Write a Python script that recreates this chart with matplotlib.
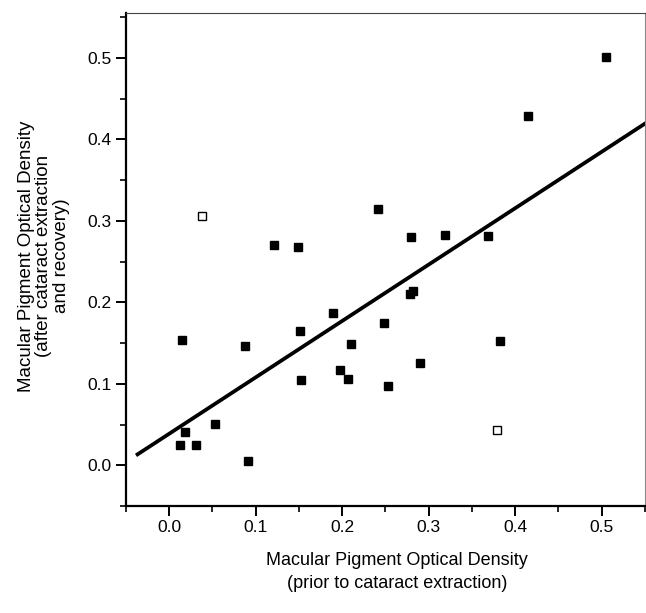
import matplotlib
matplotlib.use("Agg")
import matplotlib.pyplot as plt
import numpy as np

plt.rcParams['font.family'] = ['Liberation Sans', 'DejaVu Sans']

# Filled squares (included subjects)
x_filled = [0.0123, 0.0185, 0.0304, 0.053, 0.091, 0.015, 0.0877, 0.1208, 0.149,
            0.1515, 0.1527, 0.189, 0.198, 0.207, 0.210, 0.241, 0.248, 0.253,
            0.2785, 0.2815, 0.280, 0.290, 0.319, 0.368, 0.382, 0.415, 0.505]
y_filled = [0.025, 0.041, 0.025, 0.051, 0.005, 0.154, 0.146, 0.2705, 0.268,
            0.165, 0.105, 0.187, 0.117, 0.106, 0.149, 0.315, 0.174, 0.097,
            0.210, 0.214, 0.280, 0.126, 0.283, 0.281, 0.152, 0.429, 0.501]

# Open squares (excluded subjects)
x_open = [0.0374, 0.379]
y_open = [0.306, 0.0435]

# Regression line parameters
line_slope = 0.692
line_intercept = 0.0387
line_x_range = [-0.0384, 0.56]

x_ticks = [0.0, 0.1, 0.2, 0.3, 0.4, 0.5]
y_ticks = [0.0, 0.1, 0.2, 0.3, 0.4, 0.5]

fig = plt.figure(figsize=(6.46, 6.13), dpi=100)
ax = fig.add_axes([125.7/646, 1-506/613, (645-125.7)/646, (506-13)/613])

lx = np.array(line_x_range)
ax.plot(lx, line_slope*lx + line_intercept, color='black', lw=2.7, solid_capstyle='butt')
ax.plot(x_filled, y_filled, 's', color='black', ms=6.0, mec='black')
ax.plot(x_open, y_open, 's', mfc='white', mec='black', ms=6.0, mew=1.0)

ax.set_xlim(-0.0503, 0.548)
ax.set_ylim(-0.0487, 0.555)
ax.set_xticks(x_ticks)
ax.set_yticks(y_ticks)
ax.set_xticklabels([f"{v:.1f}" for v in x_ticks])
ax.set_yticklabels([f"{v:.1f}" for v in y_ticks])
ax.set_xticks(np.arange(-0.05, 0.55, 0.05), minor=True)
ax.set_yticks(np.arange(-0.05, 0.56, 0.05), minor=True)
ax.tick_params(which='major', direction='out', length=7, width=1.4, labelsize=12.5, pad=3)
ax.tick_params(which='minor', direction='out', length=4, width=1.2)

ax.spines['left'].set_linewidth(1.6)
ax.spines['bottom'].set_linewidth(1.6)
ax.spines['top'].set_linewidth(0.8)
ax.spines['right'].set_linewidth(0.8)
ax.spines['top'].set_color('#444444')
ax.spines['right'].set_color('#888888')

fig.text(397/646, 1-572/613, "Macular Pigment Optical Density\n(prior to cataract extraction)",
         ha='center', va='center', fontsize=13, linespacing=1.5, multialignment='center')
fig.text(44/646, 1-256/613,
         "Macular Pigment Optical Density\n(after cataract extraction\nand recovery)",
         ha='center', va='center', rotation=90, fontsize=13.5, linespacing=1.05,
         multialignment='center')

fig.savefig("out.png", dpi=100)
